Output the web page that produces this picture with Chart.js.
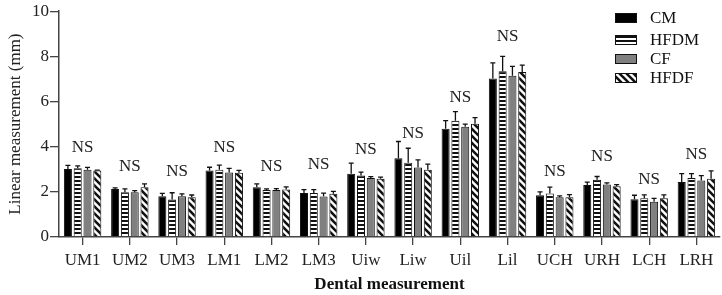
<!DOCTYPE html>
<html>
<head>
<meta charset="utf-8">
<script src="https://cdn.jsdelivr.net/npm/chart.js@4.4.1/dist/chart.umd.min.js"></script>
<style>
  html, body { margin: 0; padding: 0; background: #fff; }
  #wrap { width: 722px; height: 295px; }
</style>
</head>
<body>
<div id="wrap"><canvas id="dentalChart"></canvas></div>
<script>
var labels = ['UM1', 'UM2', 'UM3', 'LM1', 'LM2', 'LM3', 'Uiw', 'Liw', 'Uil', 'Lil', 'UCH', 'URH', 'LCH', 'LRH'];

var cmValues   = [3.01, 2.13, 1.81, 2.94, 2.20, 1.95, 2.80, 3.49, 4.79, 7.02, 1.85, 2.30, 1.67, 2.44];
var cmErr      = [0.16, 0.05, 0.12, 0.15, 0.15, 0.15, 0.47, 0.74, 0.36, 0.69, 0.15, 0.13, 0.18, 0.37];
var hfdmValues = [3.05, 1.98, 1.66, 2.98, 2.08, 1.95, 2.72, 3.29, 5.15, 7.34, 1.93, 2.54, 1.72, 2.61];
var hfdmErr    = [0.10, 0.15, 0.30, 0.20, 0.05, 0.15, 0.15, 0.64, 0.40, 0.66, 0.28, 0.14, 0.15, 0.20];
var cfValues   = [2.98, 1.98, 1.81, 2.86, 2.08, 1.79, 2.61, 3.08, 4.88, 7.14, 1.76, 2.33, 1.56, 2.50];
var cfErr      = [0.10, 0.07, 0.10, 0.18, 0.06, 0.15, 0.06, 0.34, 0.12, 0.42, 0.06, 0.07, 0.15, 0.22];
var hfdfValues = [2.94, 2.20, 1.76, 2.85, 2.10, 1.92, 2.58, 2.98, 5.01, 7.31, 1.76, 2.25, 1.72, 2.58];
var hfdfErr    = [0.02, 0.15, 0.10, 0.10, 0.12, 0.10, 0.07, 0.25, 0.28, 0.30, 0.12, 0.07, 0.15, 0.35];

// height (mm) where the "NS" mark sits above each group
var nsLevels   = [3.96, 3.14, 2.90, 3.96, 3.14, 3.22, 3.88, 4.58, 6.18, 8.90, 2.90, 3.56, 2.55, 3.65];

var fontFamily = '"Liberation Serif", "Times New Roman", serif';

function stripePattern(kind) {
    var c = document.createElement('canvas');
    var ctx = c.getContext('2d');
    if (kind === 'horizontal') {
        c.width = 4; c.height = 4;
        ctx.fillStyle = '#fff';
        ctx.fillRect(0, 0, 4, 4);
        ctx.fillStyle = '#111';
        ctx.fillRect(0, 0, 4, 2);
    } else {
        c.width = 7; c.height = 7;
        ctx.fillStyle = '#fff';
        ctx.fillRect(0, 0, 7, 7);
        ctx.strokeStyle = '#111';
        ctx.lineWidth = 2.6;
        ctx.beginPath();
        for (var k = -7; k <= 14; k += 7) {
            ctx.moveTo(k - 1, -1);
            ctx.lineTo(k + 8, 8);
        }
        ctx.stroke();
    }
    return document.createElement('canvas').getContext('2d').createPattern(c, 'repeat');
}

var errorBars = {
    id: 'errorBars',
    afterDatasetsDraw: function (chart) {
        var ctx = chart.ctx;
        var y = chart.scales.y;
        ctx.save();
        ctx.strokeStyle = '#111';
        ctx.lineWidth = 1.3;
        chart.data.datasets.forEach(function (ds, di) {
            var meta = chart.getDatasetMeta(di);
            meta.data.forEach(function (bar, i) {
                var top = y.getPixelForValue(ds.data[i] + ds.errors[i]);
                ctx.beginPath();
                ctx.moveTo(bar.x, bar.y);
                ctx.lineTo(bar.x, top);
                ctx.moveTo(bar.x - 2.5, top);
                ctx.lineTo(bar.x + 2.5, top);
                ctx.stroke();
            });
        });
        ctx.restore();
    }
};

var nsMarks = {
    id: 'nsMarks',
    afterDatasetsDraw: function (chart) {
        var ctx = chart.ctx;
        ctx.save();
        ctx.fillStyle = '#222';
        ctx.font = '17px ' + fontFamily;
        ctx.textAlign = 'center';
        ctx.textBaseline = 'middle';
        labels.forEach(function (l, i) {
            ctx.fillText('NS', chart.scales.x.getPixelForValue(i), chart.scales.y.getPixelForValue(nsLevels[i]));
        });
        ctx.restore();
    }
};

var boxLegend = {
    id: 'boxLegend',
    afterDraw: function (chart) {
        var ctx = chart.ctx;
        var rows = [18, 40, 59, 78];
        ctx.save();
        ctx.font = '17px ' + fontFamily;
        ctx.textBaseline = 'middle';
        chart.data.datasets.forEach(function (ds, i) {
            ctx.fillStyle = ds.backgroundColor;
            ctx.fillRect(615, rows[i] - 5, 22, 10);
            ctx.strokeStyle = '#111';
            ctx.lineWidth = 1;
            ctx.strokeRect(615.5, rows[i] - 4.5, 21, 9);
            ctx.fillStyle = '#111';
            ctx.fillText(ds.label, 650, rows[i] + 1);
        });
        ctx.restore();
    }
};

var datasets = [
    { label: 'CM',   data: cmValues,   errors: cmErr,   backgroundColor: '#000' },
    { label: 'HFDM', data: hfdmValues, errors: hfdmErr, backgroundColor: stripePattern('horizontal') },
    { label: 'CF',   data: cfValues,   errors: cfErr,   backgroundColor: '#808080' },
    { label: 'HFDF', data: hfdfValues, errors: hfdfErr, backgroundColor: stripePattern('diagonal') }
];
datasets.forEach(function (ds) {
    ds.borderColor = '#111';
    ds.borderWidth = 1;
    ds.categoryPercentage = 0.83;
    ds.barPercentage = 0.82;
});

var myChart = new Chart(document.querySelector('#dentalChart').getContext('2d'), {
    type: 'bar',
    data: { labels: labels, datasets: datasets },
    plugins: [errorBars, nsMarks, boxLegend],
    options: {
        responsive: true,
        maintainAspectRatio: false,
        animation: false,
        layout: { padding: { top: 7, right: 2, left: 0, bottom: 0 } },
        plugins: {
            legend: { display: false },
            tooltip: { enabled: false }
        },
        scales: {
            x: {
                afterFit: function (scale) { scale.height = 58; },
                grid: { display: true, drawOnChartArea: false, offset: false, tickLength: 8, tickColor: '#444', lineWidth: 1.3 },
                border: { display: true, color: '#444', width: 1.5 },
                ticks: { color: '#222', padding: 5, font: { family: fontFamily, size: 17 } },
                title: { display: true, text: 'Dental measurement', color: '#111', font: { family: fontFamily, size: 17, weight: 'bold' }, padding: { top: 0, bottom: 0 } }
            },
            y: {
                min: 0,
                max: 10,
                afterFit: function (scale) { scale.width = 59; },
                ticks: { stepSize: 2, color: '#222', padding: 1, font: { family: fontFamily, size: 17 } },
                grid: { display: true, drawOnChartArea: false, tickLength: 9, tickColor: '#444', lineWidth: 1.3 },
                border: { display: true, color: '#444', width: 1.5 },
                title: { display: true, text: 'Linear measurement (mm)', color: '#222', font: { family: fontFamily, size: 17 }, padding: { top: 5, bottom: 0 } }
            }
        }
    }
});
</script>
</body>
</html>
